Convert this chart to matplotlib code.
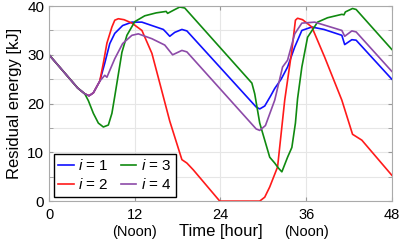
import numpy as np
import matplotlib.pyplot as plt
from matplotlib.ticker import MultipleLocator

plt.rcParams['font.family'] = ['Liberation Sans', 'DejaVu Sans']
plt.rcParams['mathtext.fontset'] = 'custom'
plt.rcParams['mathtext.it'] = 'Liberation Sans:italic'
plt.rcParams['mathtext.rm'] = 'Liberation Sans'

# shared start of all curves
t_common = [0, 2, 4, 5, 5.6, 6.2, 7.1]
e_common = [30, 26.6, 23.2, 22.0, 21.6, 22.2, 24.6]

t1 = t_common + [7.8, 8.5, 9.2, 10.3, 11.6, 13, 16, 16.4, 16.9, 17.6, 18.6, 19.3,
                 29, 29.5, 30.2, 31, 31.6, 32.5, 33.4, 34.4, 35.4, 36.8, 38.5,
                 41, 41.4, 42.4, 43, 48]
e1 = e_common + [28.3, 32.3, 34.4, 36, 36.7, 36.7, 35.2, 34.6, 33.8, 34.6, 35.2, 34.9,
                 19.3, 18.9, 19.5, 21.5, 23.1, 25, 27.5, 31.6, 35, 35.7, 35.2,
                 34, 32.1, 33.1, 33, 25]

t2 = t_common + [7.6, 8.1, 8.8, 9.2, 9.7, 10.5, 11.6, 13, 14.4, 15.5, 16.9, 18.6,
                 19.3, 20.2, 23.9, 29.5, 30.2, 30.9, 32, 33, 34, 34.5, 34.8, 35.5,
                 36.8, 38.6, 41, 42.5, 43.8, 48]
e2 = e_common + [28.3, 32.4, 35.7, 37.1, 37.4, 37.2, 36.5, 35, 30.3, 24.2, 16.4, 8.5,
                 7.8, 6.4, 0, 0, 0.8, 2.9, 7, 20.7, 30.9, 37.1, 37.5, 37.2,
                 35.7, 29.5, 20.7, 13.7, 12.5, 5.3]

t3 = [0, 2, 4, 5, 5.5, 6.2, 6.9, 7.6, 8.3, 8.8, 9.2, 9.7, 10.2, 10.9, 12, 13.4, 15,
      16.4, 16.6, 17.5, 18.3, 19, 28.4, 28.8, 29.5, 30.9, 31.6, 32.1, 32.6, 33.4,
      34, 34.5, 34.8, 35.4, 36.2, 37.6, 39, 41, 41.3, 41.5, 42.5, 43, 48]
e3 = [30, 26.6, 23.2, 22.0, 20.6, 18, 16, 15.2, 15.6, 18, 21.5, 26, 30.5, 34, 36.8,
      38, 38.6, 38.9, 38.5, 39.2, 39.8, 39.6, 24.2, 22, 16, 9, 7.8, 6.8, 6.0, 9,
      11, 16, 21, 27.5, 33.6, 36.7, 37.6, 38.3, 38.2, 38.8, 39.5, 39.3, 31.1]

t4 = t_common + [7.8, 8.1, 8.5, 9.2, 10.3, 11.6, 12.5, 14.4, 16.2, 17.3, 18.6, 19.3,
                 29, 29.5, 30.3, 30.8, 31.6, 32.7, 33.4, 34.4, 35.4, 37.2, 41,
                 41.4, 42.4, 43, 48]
e4 = e_common + [25.8, 25.4, 26.8, 29.2, 32.3, 34, 34.3, 33.3, 32, 30, 30.9, 30.6,
                 14.8, 14.5, 15.5, 17.5, 20.7, 27.5, 28.9, 34.3, 36.5, 36.7, 35,
                 33.8, 34.9, 34.7, 26.6]

xticks = [0, 12, 24, 36, 48]
xticklabels = ['0', '12\n(Noon)', '24', '36\n(Noon)', '48']

fig = plt.figure(figsize=(4.09, 2.42), dpi=100)
ax = fig.add_axes([0.12, 0.169, 0.838, 0.806])

ax.plot(t1, e1, color='#1010ff', lw=1.2, label='$i$ = 1')
ax.plot(t2, e2, color='#ff1a1a', lw=1.2, label='$i$ = 2')
ax.plot(t3, e3, color='#108a10', lw=1.2, label='$i$ = 3')
ax.plot(t4, e4, color='#8c4aa8', lw=1.2, label='$i$ = 4')

ax.set_xlim(0, 48)
ax.set_ylim(0, 40)
ax.set_xticks(xticks)
ax.set_xticklabels(xticklabels)
ax.set_yticks([0, 10, 20, 30, 40])
ax.yaxis.set_minor_locator(MultipleLocator(5))
ax.grid(True, which='both', color='#e6e6e6', lw=0.8)
ax.set_axisbelow(True)
ax.tick_params(which='both', direction='in', top=True, right=True, color='#999999',
               length=3, labelsize=11)
ax.tick_params(axis='x', pad=5, labelsize=10.5)
for lab in ax.get_xticklabels():
    lab.set_linespacing(1.25)
for s in ax.spines.values():
    s.set_color('#aaaaaa')

ax.set_xlabel('Time [hour]', fontsize=12, labelpad=-11)
ax.set_ylabel('Residual energy [kJ]', fontsize=12, labelpad=4)

ax.legend(loc='lower left', ncol=2, fontsize=11, fancybox=False, edgecolor='black',
          framealpha=1, handlelength=1.0, handletextpad=0.3, columnspacing=0.8,
          borderaxespad=0.3, labelspacing=0.25, borderpad=0.3)

fig.savefig('out.png', dpi=100)
